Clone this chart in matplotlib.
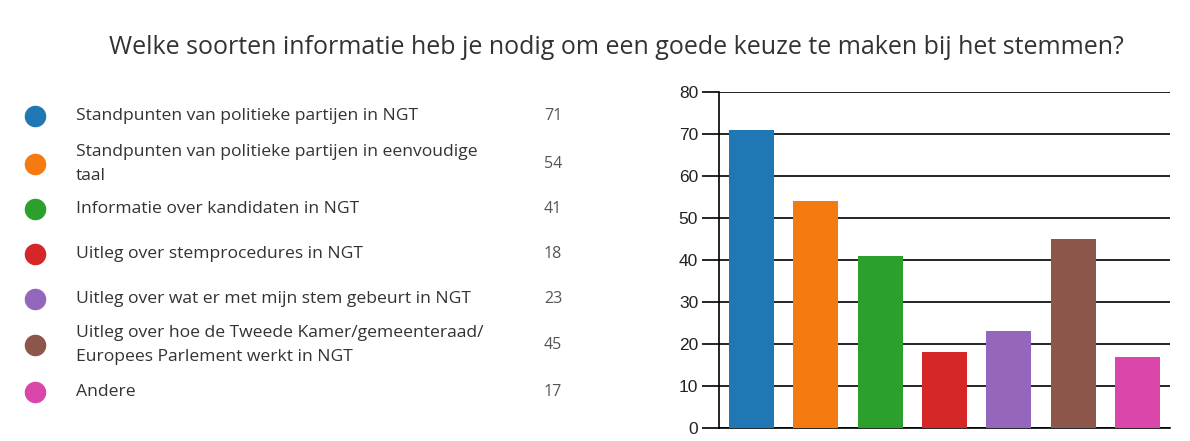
import matplotlib.pyplot as plt

labels = [
    "Standpunten van politieke partijen in NGT",
    "Standpunten van politieke partijen in eenvoudige\ntaal",
    "Informatie over kandidaten in NGT",
    "Uitleg over stemprocedures in NGT",
    "Uitleg over wat er met mijn stem gebeurt in NGT",
    "Uitleg over hoe de Tweede Kamer/gemeenteraad/\nEuropees Parlement werkt in NGT",
    "Andere",
]
counts = [71, 54, 41, 18, 23, 45, 17]
colors = ["#1f77b4", "#f57a10", "#2ca02c", "#d62728", "#9467bd", "#8c564b", "#da46aa"]
yticks = [0, 10, 20, 30, 40, 50, 60, 70, 80]
title = "Welke soorten informatie heb je nodig om een goede keuze te maken bij het stemmen?"

W, H = 1190, 441
fig = plt.figure(figsize=(W / 100, H / 100), dpi=100)
fig.patch.set_facecolor("white")

# overlay in pixel coords for title + legend list
ov = fig.add_axes([0, 0, 1, 1])
ov.set_xlim(0, W)
ov.set_ylim(H, 0)
ov.axis("off")

ov.text(616, 47, title, ha="center", va="center", fontsize=18,
        family="Open Sans", color="#333333")

row_y = [116, 164, 209, 254, 299, 345, 392]
for i, lab in enumerate(labels):
    ov.scatter([35], [row_y[i]], s=210, color=colors[i], zorder=3)
    ov.text(76, row_y[i], lab, ha="left", va="center", fontsize=12.6,
            family="Open Sans", color="#333333", linespacing=1.6)
    ov.text(553, row_y[i], str(counts[i]), ha="center", va="center",
            fontsize=11.5, family="Open Sans", color="#555555")

# bar chart
ax = fig.add_axes([719 / W, 1 - 428 / H, (1170 - 719) / W, (428 - 92) / H])
ax.bar(range(len(counts)), counts, width=0.7, color=colors, zorder=3)
ax.set_xlim(-0.5, len(counts) - 0.5)
ax.set_ylim(0, 80)
ax.set_yticks(yticks)
ax.set_xticks([])
ax.grid(axis="y", color="black", linewidth=1.2, zorder=1)
ax.tick_params(axis="y", length=12, width=1.2, labelsize=12.5, pad=3,
               labelcolor="#222222")
for lbl in ax.get_yticklabels():
    lbl.set_family("Liberation Sans")
for s in ["top", "right"]:
    ax.spines[s].set_visible(False)
ax.spines["left"].set_linewidth(1.2)
ax.spines["bottom"].set_linewidth(1.2)

fig.savefig("out.png", dpi=100)
